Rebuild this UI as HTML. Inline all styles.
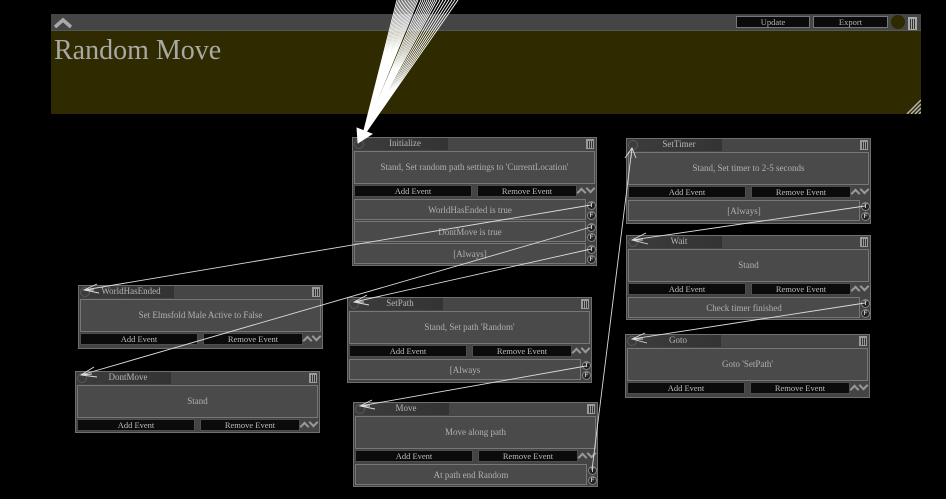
<!DOCTYPE html>
<html>
<head>
<meta charset="utf-8">
<style>
html,body{margin:0;padding:0;background:#000;width:946px;height:499px;overflow:hidden}
body{position:relative;font-family:"Liberation Serif",serif;color:#b0b0b0}
#pan{position:absolute;left:51px;top:14px;width:870px;height:100px;background:#2f2a00}
#hd{position:absolute;left:0;top:0;width:870px;height:17px;background:#454545;box-shadow:inset 0 -1px 0 #555}
#ttl{position:absolute;left:3px;top:19px;font-size:28px;line-height:36px;color:#a8a8a4;white-space:nowrap}
.tb{position:absolute;top:2px;height:12px;background:#0b0b0b;box-shadow:inset 0 0 0 1px #777;font-size:8.5px;line-height:13px;text-align:center;color:#b5b5b5}
.n{position:absolute;width:245px;background:#444;box-shadow:inset 0 0 0 1px #6f6f6f;filter:blur(.25px)}
.tab{position:absolute;left:1px;top:1px;width:95px;height:12px;background:linear-gradient(90deg,#3c3c3c,#353535 85%,#333);font-size:9px;line-height:11px;text-align:center;padding-left:9px;box-sizing:border-box;color:#b5b5b5}
.bar{position:absolute;left:96px;top:1px;right:1px;height:12px;background:#464646}
.c{position:absolute;left:2px;top:2px;width:8px;height:8px;border:1px solid #5a5a5a;border-radius:50%}
.tr{position:absolute;left:234px;top:2px;width:8px;height:10px;background:repeating-linear-gradient(90deg,#999 0 1px,#333 1px 2px);border:1px solid #999;border-top:2px solid #999;box-sizing:border-box}
.b{position:absolute;left:2px;top:14px;width:241px;height:33px;background:#4a4a4a;box-shadow:inset 0 0 0 1px #777;font-size:9px;line-height:33px;text-align:center}
.a,.r{position:absolute;top:48px;height:12px;background:#0b0b0b;box-shadow:inset 0 0 0 1px #4e4e4e;font-size:8.5px;line-height:13px;text-align:center;color:#bdbdbd}
.a{left:2px;width:118px}
.r{left:125px;width:100px}
.u,.d{position:absolute;width:5px;height:5px;border:solid #999;transform:rotate(45deg)}
.u{left:226px;top:52px;border-width:2px 0 0 2px}
.d{left:235px;top:48px;border-width:0 2px 2px 0}
.w{position:absolute;left:2px;width:232px;height:21px;background:#4a4a4a;box-shadow:inset 0 0 0 1px #777;font-size:9px;line-height:23px;text-align:center}
.t{position:absolute;left:235px;width:9px;height:9px;border-radius:50%;background:#222;box-shadow:inset 0 0 0 1px #888;font:bold 6.5px/9px "Liberation Sans",sans-serif;text-align:center;color:#ccc}
svg{position:absolute;left:0;top:0}
</style>
</head>
<body>
<div id="pan">
  <div id="hd"></div>
  <svg width="30" height="17" style="left:0;top:0"><path d="M4 13 L12 6 L20 13" fill="none" stroke="#a9a9a9" stroke-width="3.5"/></svg>
  <div id="ttl">Random Move</div>
  <div class="tb" style="left:685px;width:74px">Update</div>
  <div class="tb" style="left:762px;width:75px">Export</div>
  <div style="position:absolute;left:840px;top:1px;width:14px;height:14px;border-radius:50%;background:#2f2a00"></div>
  <div style="position:absolute;left:857px;top:3px;width:9px;height:13px;box-sizing:border-box;border:1px solid #aaa;border-top:2px solid #aaa;background:repeating-linear-gradient(90deg,#aaa 0 1px,#333 1px 2px)"></div>
  <svg width="16" height="16" style="left:854px;top:84px"><path d="M2 16 L16 2 M6 16 L16 6 M10 16 L16 10 M14 16 L16 14" stroke="#b5b5b5" stroke-width="1.5"/></svg>
</div>

<div class="n" style="left:352px;top:137px;height:129px"><div class="bar"></div><div class="tab">Initialize</div><div class="c"></div><div class="tr"></div>
  <div class="b">Stand, Set random path settings to 'CurrentLocation'</div><div class="a">Add Event</div><div class="r">Remove Event</div><div class="u"></div><div class="d"></div>
  <div class="w" style="top:62px">WorldHasEnded is true</div><div class="t" style="top:64px">T</div><div class="t" style="top:74px">F</div>
  <div class="w" style="top:84px">DontMove is true</div><div class="t" style="top:86px">T</div><div class="t" style="top:96px">F</div>
  <div class="w" style="top:106px">[Always]</div><div class="t" style="top:108px">T</div><div class="t" style="top:118px">F</div>
</div>

<div class="n" style="left:626px;top:138px;height:86px"><div class="bar"></div><div class="tab">SetTimer</div><div class="c"></div><div class="tr"></div>
  <div class="b">Stand, Set timer to 2-5 seconds</div><div class="a">Add Event</div><div class="r">Remove Event</div><div class="u"></div><div class="d"></div>
  <div class="w" style="top:62px">[Always]</div><div class="t" style="top:64px">T</div><div class="t" style="top:74px">F</div>
</div>

<div class="n" style="left:626px;top:235px;height:85px"><div class="bar"></div><div class="tab">Wait</div><div class="c"></div><div class="tr"></div>
  <div class="b">Stand</div><div class="a">Add Event</div><div class="r">Remove Event</div><div class="u"></div><div class="d"></div>
  <div class="w" style="top:62px">Check timer finished</div><div class="t" style="top:64px">T</div><div class="t" style="top:74px">F</div>
</div>

<div class="n" style="left:625px;top:334px;height:64px"><div class="bar"></div><div class="tab">Goto</div><div class="c"></div><div class="tr"></div>
  <div class="b">Goto 'SetPath'</div><div class="a">Add Event</div><div class="r">Remove Event</div><div class="u"></div><div class="d"></div>
</div>

<div class="n" style="left:347px;top:297px;height:86px"><div class="bar"></div><div class="tab">SetPath</div><div class="c"></div><div class="tr"></div>
  <div class="b">Stand, Set path 'Random'</div><div class="a">Add Event</div><div class="r">Remove Event</div><div class="u"></div><div class="d"></div>
  <div class="w" style="top:62px">[Always</div><div class="t" style="top:64px">T</div><div class="t" style="top:74px">F</div>
</div>

<div class="n" style="left:353px;top:402px;height:85px"><div class="bar"></div><div class="tab">Move</div><div class="c"></div><div class="tr"></div>
  <div class="b">Move along path</div><div class="a">Add Event</div><div class="r">Remove Event</div><div class="u"></div><div class="d"></div>
  <div class="w" style="top:62px">At path end Random</div><div class="t" style="top:64px">T</div><div class="t" style="top:74px">F</div>
</div>

<div class="n" style="left:78px;top:285px;height:64px"><div class="bar"></div><div class="tab">WorldHasEnded</div><div class="c"></div><div class="tr"></div>
  <div class="b">Set Elmsfold Male Active to False</div><div class="a">Add Event</div><div class="r">Remove Event</div><div class="u"></div><div class="d"></div>
</div>

<div class="n" style="left:75px;top:371px;height:62px"><div class="bar"></div><div class="tab">DontMove</div><div class="c"></div><div class="tr"></div>
  <div class="b">Stand</div><div class="a">Add Event</div><div class="r">Remove Event</div><div class="u"></div><div class="d"></div>
</div>

<svg width="946" height="499" fill="none" stroke="#dcdcdc" stroke-width=".9">
  <path stroke="#fff" d="M397 0L362 138M398.5 0L362 138M400 0L362 138M401.5 0L362 138M403 0L362 138M404.5 0L362 138M406 0L362 138M407.5 0L362 138M409 0L362 138M410.5 0L362 138M412 0L362 138M413.5 0L362 138M415 0L362 138M416.5 0L362 138M418 0L362 138"/>
  <path stroke="#fff" d="M421 0L362 138M423 0L362 138M425 0L362 138M427 0L362 138M429 0L362 138M431 0L362 138M433 0L362 138M435 0L362 138M437 0L362 138M440 0L362 138M443 0L362 138M446 0L362 138M449 0L362 138M452 0L362 138M455 0L362 138M458 0L362 138"/>
  <path fill="#fff" stroke="#fff" d="M358 143L357 128L372 134Z"/>

  <path d="M591 205L84 290M97 284L84 290L99 293M84 290L94 290"/>
  <path d="M591 227L81 375M94 367L81 375L97 377M81 375L92 374"/>
  <path d="M591 249L354 302M367 295L354 302L369 305M354 302L364 302"/>
  <path d="M586 366L360 406M372 400L360 406L375 409M360 406L370 406"/>
  <path d="M592 470L632 148M625 158L632 148L636 158M631 158L632 148"/>
  <path d="M865 206L632 240M646 233L632 240L648 244M632 240L643 240"/>
  <path d="M865 303L632 339M645 333L632 339L647 343M632 339L643 339"/>
</svg>
</body>
</html>
